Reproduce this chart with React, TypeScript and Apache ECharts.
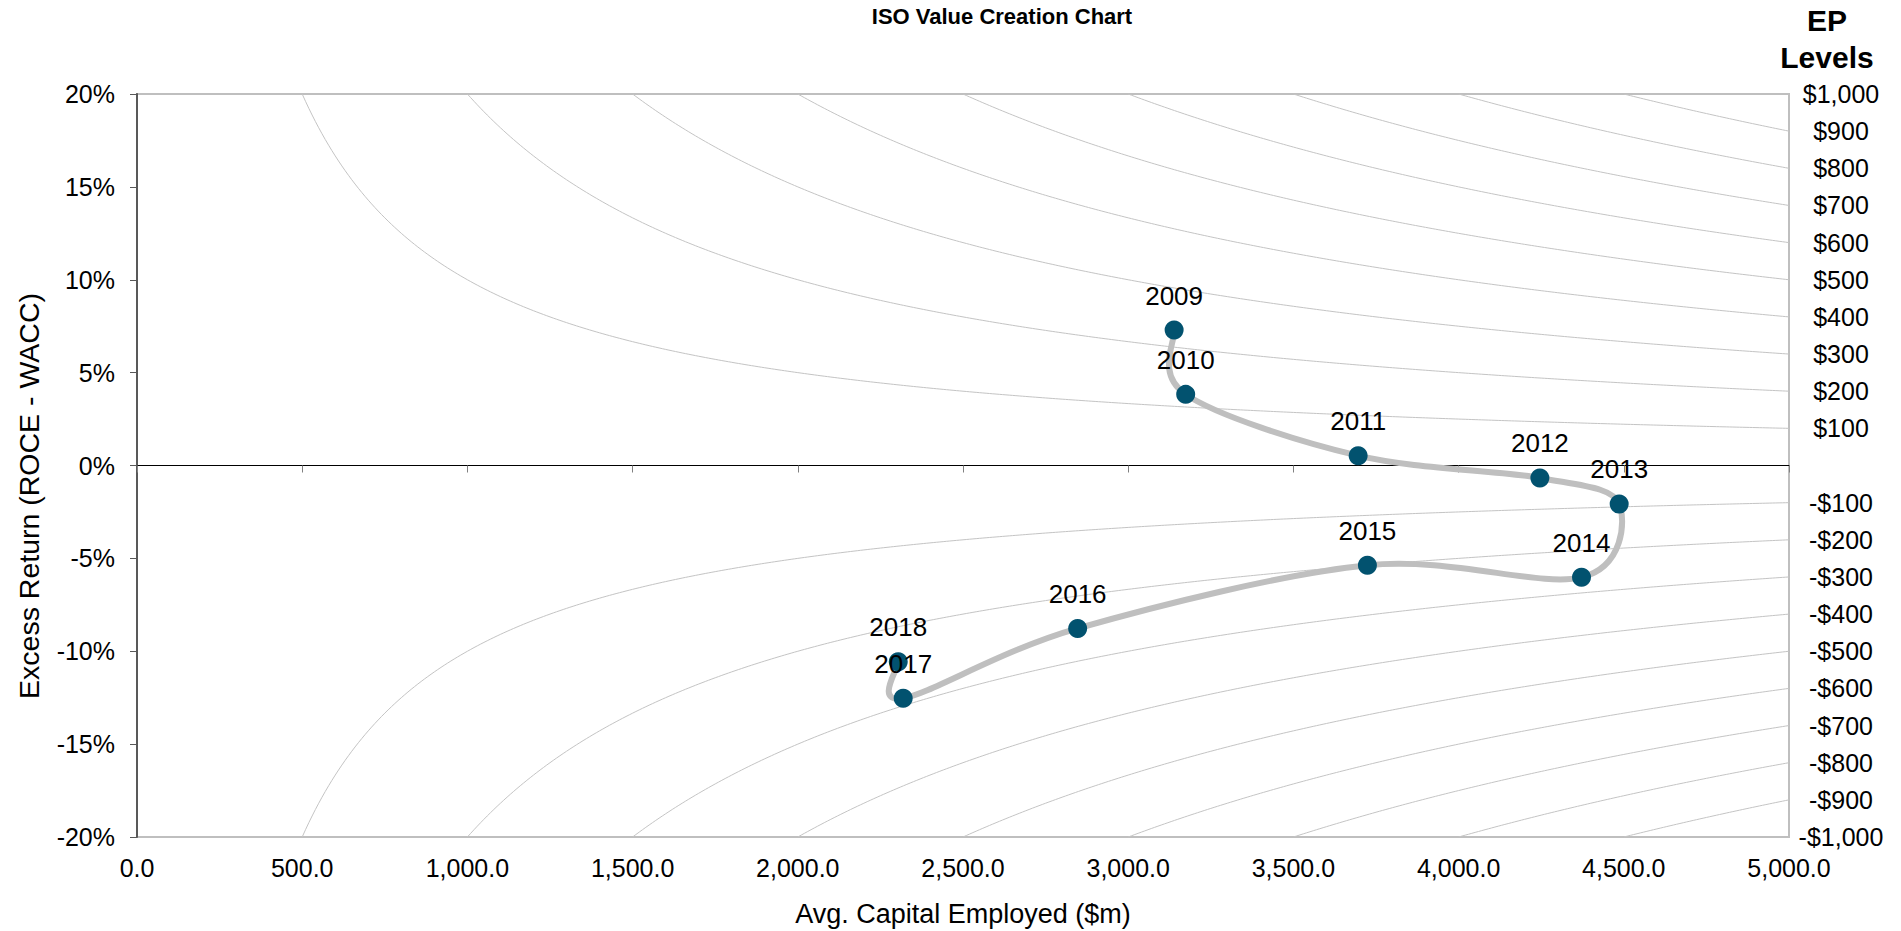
import React, { useEffect, useRef } from "react";
import * as echarts from "echarts";

const YEARS = ["2009", "2010", "2011", "2012", "2013", "2014", "2015", "2016", "2017", "2018"];
const CAPITAL = [3139, 3174, 3696, 4246, 4486, 4372, 3724, 2847, 2319, 2304];
const EXCESS_RETURN = [7.29, 3.83, 0.53, -0.67, -2.07, -6.02, -5.37, -8.77, -12.53, -10.56];

const EP_LEVELS = [100, 200, 300, 400, 500, 600, 700, 800, 900, 1000, -100, -200, -300, -400, -500, -600, -700, -800, -900, -1000];

const X_MIN = 0;
const X_MAX = 5000;
const X_INTERVAL = 500;
const Y_MIN = -20;
const Y_MAX = 20;
const Y_INTERVAL = 5;
const EP_AXIS_INTERVAL = 2;

const FONT = "'Liberation Sans', Arial, sans-serif";

function isoCurve(ep: number): number[][] {
  // Iso-EP curve: excess return (%) = EP / capital * 100
  const pts: number[][] = [];
  const start = (Math.abs(ep) * 100) / Y_MAX;
  for (let x = start; x <= X_MAX + 0.001; x += 10) {
    pts.push([x, (ep / x) * 100]);
  }
  return pts;
}

function epLabel(v: number): string {
  const ep = EP_LEVELS.find((e) => Math.abs((e * 100) / X_MAX - v) < 1e-6);
  if (ep === undefined) return "";
  const s = "$" + Math.abs(ep).toLocaleString("en-US");
  return ep < 0 ? "-" + s : s;
}

export default function App() {
  const ref = useRef<HTMLDivElement>(null);
  useEffect(() => {
    document.body.style.margin = "0";
    const chart = echarts.init(ref.current!, undefined, { renderer: "svg" });
    const isoSeries = EP_LEVELS.map((ep) => ({
      type: "line",
      name: "EP " + ep,
      data: isoCurve(ep),
      showSymbol: false,
      silent: true,
      lineStyle: { color: "#c4c4c4", width: 1 },
      z: 1,
      xAxisIndex: 0,
      yAxisIndex: 0,
    }));
    const n = CAPITAL.length;
    chart.setOption({
      animation: false,
      grid: {
        left: 137,
        right: 112,
        top: 94,
        bottom: 94,
        show: true,
        borderColor: "#bfbfbf",
        borderWidth: 2,
        containLabel: false,
      },
      xAxis: [
        {
          type: "value",
          min: X_MIN,
          max: X_MAX,
          interval: X_INTERVAL,
          position: "bottom",
          axisLine: { show: false, onZero: false },
          axisTick: { show: false },
          splitLine: { show: false },
          axisLabel: {
            color: "#000",
            fontSize: 25,
            fontFamily: FONT,
            margin: 18,
            formatter: (v: number) =>
              v.toLocaleString("en-US", { minimumFractionDigits: 1, maximumFractionDigits: 1 }),
          },
        },
        {
          type: "value",
          min: X_MIN,
          max: X_MAX,
          interval: X_INTERVAL,
          position: "bottom",
          axisLine: { show: true, onZero: true, onZeroAxisIndex: 0, lineStyle: { color: "#000", width: 1 } },
          axisTick: { show: true, inside: false, length: 7, lineStyle: { color: "#808080", width: 1 } },
          axisLabel: { show: false },
          splitLine: { show: false },
        },
      ],
      yAxis: [
        {
          type: "value",
          min: Y_MIN,
          max: Y_MAX,
          interval: Y_INTERVAL,
          position: "left",
          axisLine: { show: true, onZero: false, lineStyle: { color: "#595959", width: 2 } },
          axisTick: { show: true, length: 7, lineStyle: { color: "#595959", width: 1 } },
          splitLine: { show: false },
          axisLabel: {
            color: "#000",
            fontSize: 25,
            fontFamily: FONT,
            margin: 22,
            formatter: (v: number) => v + "%",
          },
        },
        {
          type: "value",
          min: Y_MIN,
          max: Y_MAX,
          interval: EP_AXIS_INTERVAL,
          position: "right",
          axisLine: { show: false, onZero: false },
          axisTick: { show: false },
          splitLine: { show: false },
          axisLabel: {
            color: "#000",
            fontSize: 25,
            fontFamily: FONT,
            margin: 52,
            align: "center",
            formatter: (v: number) => epLabel(v),
          },
        },
      ],
      graphic: [
        {
          type: "text",
          x: 1002,
          y: 16,
          style: {
            text: "ISO Value Creation Chart",
            font: `bold 22px ${FONT}`,
            fill: "#000",
            textAlign: "center",
            textVerticalAlign: "middle",
          },
        },
        {
          type: "text",
          x: 1827,
          y: 20,
          style: {
            text: "EP",
            font: `bold 30px ${FONT}`,
            fill: "#000",
            textAlign: "center",
            textVerticalAlign: "middle",
          },
        },
        {
          type: "text",
          x: 1827,
          y: 57,
          style: {
            text: "Levels",
            font: `bold 30px ${FONT}`,
            fill: "#000",
            textAlign: "center",
            textVerticalAlign: "middle",
          },
        },
        {
          type: "text",
          x: 963,
          y: 914,
          style: {
            text: "Avg. Capital Employed ($m)",
            font: `27px ${FONT}`,
            fill: "#000",
            textAlign: "center",
            textVerticalAlign: "middle",
          },
        },
        {
          type: "text",
          x: 29,
          y: 496,
          rotation: Math.PI / 2,
          style: {
            text: "Excess Return (ROCE - WACC)",
            font: `28.5px ${FONT}`,
            fill: "#000",
            textAlign: "center",
            textVerticalAlign: "middle",
          },
        },
      ],
      series: [
        ...isoSeries,
        {
          type: "custom",
          name: "Path",
          silent: true,
          z: 4,
          xAxisIndex: 0,
          yAxisIndex: 0,
          data: CAPITAL.map((c, i) => [c, EXCESS_RETURN[i]]),
          encode: { x: 0, y: 1 },
          renderItem: (params: any, api: any) => {
            const i = params.dataIndex;
            if (i >= n - 1) return { type: "group", children: [] };
            const P = CAPITAL.map((c, k) => api.coord([c, EXCESS_RETURN[k]]));
            const p0 = P[Math.max(i - 1, 0)];
            const p1 = P[i];
            const p2 = P[i + 1];
            const p3 = P[Math.min(i + 2, n - 1)];
            return {
              type: "bezierCurve",
              shape: {
                x1: p1[0],
                y1: p1[1],
                x2: p2[0],
                y2: p2[1],
                cpx1: p1[0] + (p2[0] - p0[0]) / 6,
                cpy1: p1[1] + (p2[1] - p0[1]) / 6,
                cpx2: p2[0] - (p3[0] - p1[0]) / 6,
                cpy2: p2[1] - (p3[1] - p1[1]) / 6,
              },
              style: { stroke: "#bfbfbf", lineWidth: 6, fill: null, lineCap: "round" },
            };
          },
        },
        {
          type: "scatter",
          name: "Company",
          data: CAPITAL.map((c, i) => [c, EXCESS_RETURN[i], YEARS[i]]),
          symbol: "circle",
          symbolSize: 19,
          itemStyle: { color: "#02526f", opacity: 1 },
          label: {
            show: true,
            position: "top",
            distance: 12,
            color: "#000",
            fontSize: 26,
            fontFamily: FONT,
            formatter: (p: any) => p.data[2],
          },
          z: 5,
          xAxisIndex: 0,
          yAxisIndex: 0,
        },
      ],
    });
    return () => chart.dispose();
  }, []);
  return <div ref={ref} style={{ width: 1901, height: 931 }} />;
}
